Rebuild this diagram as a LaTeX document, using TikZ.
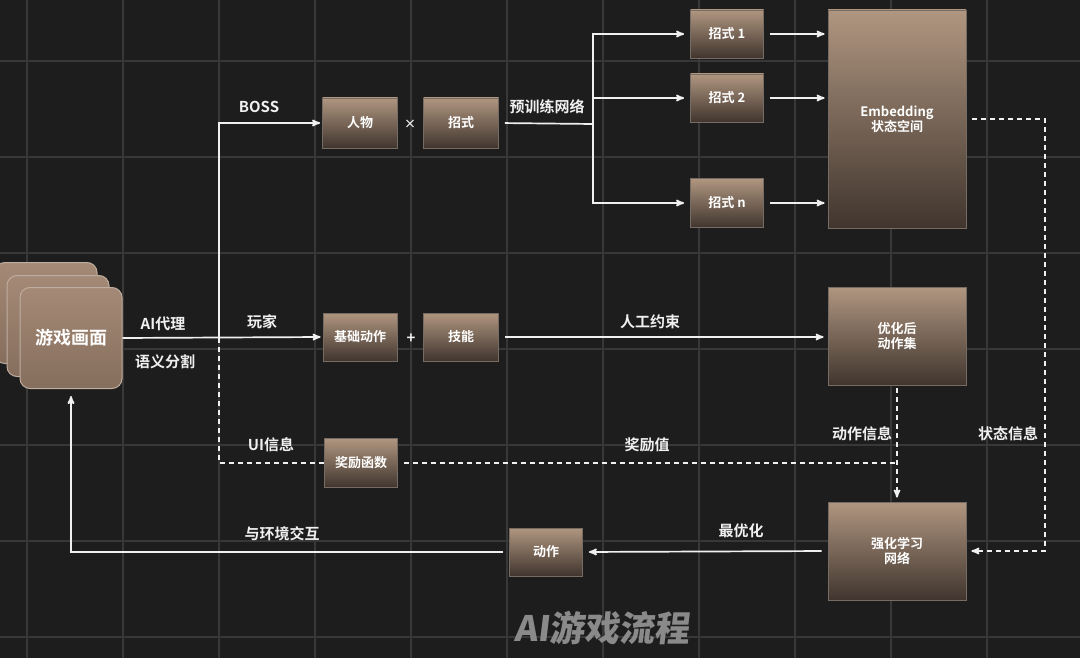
\documentclass[tikz,border=0pt]{standalone}
\usepackage{fontspec}
\setmainfont{Noto Sans CJK SC}[BoldFont=* Bold]
\newfontfamily\titlefont{Noto Sans CJK SC}[BoldFont=* Black,FakeSlant=0.12]
\usepackage{tikz}
\usetikzlibrary{arrows}
\definecolor{bg}{RGB}{29,29,29}
\definecolor{gridc}{RGB}{56,56,56}
\definecolor{boxtop}{RGB}{176,150,128}
\definecolor{boxmid}{RGB}{146,123,104}
\definecolor{boxbot}{RGB}{64,53,46}
\definecolor{boxedge}{RGB}{118,108,100}
\definecolor{cardtop}{RGB}{164,138,118}
\definecolor{cardbot}{RGB}{134,110,93}
\definecolor{linec}{RGB}{240,240,240}
\definecolor{titlec}{RGB}{138,138,138}
\tikzset{
  tanbox/.style={rectangle,inner sep=0pt,top color=boxtop,middle color=boxmid,bottom color=boxbot,
    draw=boxedge,line width=0.8pt,text=white,font=\bfseries\fontsize{13}{15}\selectfont,align=center},
  card/.style={rectangle,rounded corners=10pt,minimum width=102pt,minimum height=101pt,
    top color=cardtop,bottom color=cardbot,draw=cardtop!70!white,line width=1pt},
  lbl/.style={text=linec,font=\bfseries\fontsize{15}{18}\selectfont},
  link/.style={draw=linec,line width=1.7pt},
  dlink/.style={link,dash pattern=on 5pt off 4pt},
}
\begin{document}
\begin{tikzpicture}[x=1pt,y=-1pt,>=stealth']
    \useasboundingbox[fill=bg] (0,0) rectangle (1080,658);
    \foreach \gx in {27,123,...,1083} \draw[gridc,line width=1.3pt] (\gx,0) -- (\gx,658);
    \foreach \gy in {61,157,...,637} \draw[gridc,line width=1.3pt] (0,\gy) -- (1080,\gy);

    \node[card] (gameback) at (46,313) {};
    \node[card] (gamemid) at (58,326) {};
    \node[card,text=white,font=\bfseries\fontsize{18}{21}\selectfont] (game) at (71,338) {游戏画面};

    \node[tanbox,minimum width=75pt,minimum height=50pt] (person) at (360,123) {人物};
    \node[lbl,font=\bfseries\fontsize{12}{14}\selectfont] (times) at (410,124) {×};
    \node[tanbox,minimum width=75pt,minimum height=50pt] (move) at (461,123) {招式};
    \node[tanbox,minimum width=73pt,minimum height=48pt] (m1) at (727,34) {招式 1};
    \node[tanbox,minimum width=73pt,minimum height=48pt] (m2) at (727,98) {招式 2};
    \node[tanbox,minimum width=73pt,minimum height=49pt] (mn) at (727,203) {招式 n};
    \node[tanbox,minimum width=138pt,minimum height=218pt] (emb) at (897,119) {Embedding\\状态空间};

    \node[tanbox,minimum width=74pt,minimum height=48pt] (base) at (360,337) {基础动作};
    \node[lbl] (plus) at (411,339) {+};
    \node[tanbox,minimum width=75pt,minimum height=48pt] (skill) at (461,337) {技能};
    \node[tanbox,minimum width=138pt,minimum height=98pt] (opt) at (897,336) {优化后\\动作集};

    \node[tanbox,minimum width=73pt,minimum height=49pt] (reward) at (361,463) {奖励函数};
    \node[tanbox,minimum width=138pt,minimum height=98pt] (rl) at (897,551) {强化学习\\网络};
    \node[tanbox,minimum width=73pt,minimum height=48pt] (act) at (546,552) {动作};

    \node[lbl] (lboss) at (259,107) {BOSS};
    \node[lbl] (lpre) at (547,107) {预训练网络};
    \node[lbl] (lagent) at (163,324) {AI代理};
    \node[lbl] (lseg) at (165,362) {语义分割};
    \node[lbl] (lplayer) at (262,322) {玩家};
    \node[lbl] (lrule) at (650,322) {人工约束};
    \node[lbl] (lui) at (271,445) {UI信息};
    \node[lbl] (lval) at (647,445) {奖励值};
    \node[lbl] (lactinfo) at (862,434) {动作信息};
    \node[lbl] (lstate) at (1008,434) {状态信息};
    \node[lbl] (lbest) at (741,531) {最优化};
    \node[lbl] (lenv) at (282,534) {与环境交互};
    \node[text=titlec,font=\titlefont\bfseries\fontsize{35}{40}\selectfont] (title) at (602,628) {AI游戏流程};

    \coordinate (split) at (219,338);
    \coordinate (fan) at (593,124);
    \coordinate (side) at (1045,0);

    \draw[link,->,shorten >=2pt] (game.east) -- (base.west);
    \draw[link,->,shorten >=2pt] (split) |- (person.west);
    \draw[dlink] (split) |- (reward.west);
    \draw[link,shorten <=6pt] (move.east) -- (fan);
    \draw[link,->,shorten >=6pt] (fan) |- (m1.west);
    \draw[link,->,shorten >=6pt] (fan) |- (m2.west);
    \draw[link,->,shorten >=6pt] (fan) |- (mn.west);
    \draw[link,->,shorten <=6pt,shorten >=3pt] (m1.east) -- (m1.east -| emb.west);
    \draw[link,->,shorten <=6pt,shorten >=3pt] (m2.east) -- (m2.east -| emb.west);
    \draw[link,->,shorten <=6pt,shorten >=3pt] (mn.east) -- (mn.east -| emb.west);
    \draw[link,->,shorten <=6pt,shorten >=4pt] (skill.east) -- (skill.east -| opt.west);
    \draw[dlink,->,shorten <=3pt,shorten >=4pt] (opt.south) -- (rl.north);
    \draw[dlink,shorten <=6pt] (reward.east) -- (reward.east -| opt.south);
    \draw[dlink,->,shorten <=6pt,shorten >=5pt] (emb.east) -| (side |- rl.east) -- (rl.east);
    \draw[link,->,shorten <=6pt,shorten >=6pt] (rl.west) -- (act.east);
    \draw[link,->,shorten <=6pt,shorten >=7pt] (act.west) -| (game.south);
  \end{tikzpicture}
\end{document}
